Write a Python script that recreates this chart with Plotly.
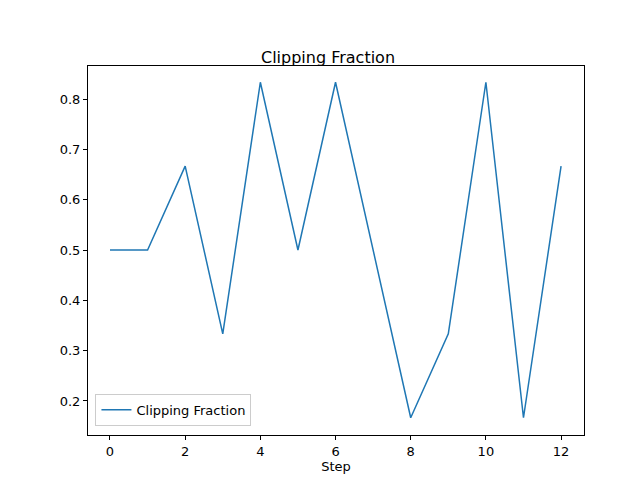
import plotly.graph_objects as go

steps = list(range(13))
clip_frac = [0.5, 0.5, 0.6667, 0.3333, 0.8333, 0.5, 0.8333, 0.5, 0.1667, 0.3333, 0.8333, 0.1667, 0.6667]

fig = go.Figure()
fig.add_trace(go.Scatter(x=steps, y=clip_frac, mode="lines", name="Clipping Fraction",
                         line=dict(color="#1f77b4", width=1.5)))
axis_common = dict(showgrid=False, zeroline=False, showline=True, linecolor="black", linewidth=1,
                   mirror=True, ticks="outside", ticklen=4, tickcolor="black", automargin=False,
                   tickfont=dict(family="DejaVu Sans", size=13, color="black"))
fig.update_layout(
    width=640, height=480,
    margin=dict(l=80, r=64, t=58, b=53, autoexpand=False),
    plot_bgcolor="white", paper_bgcolor="white",
    title=dict(text="Clipping Fraction", x=0.5, xanchor="center", y=0.885, yanchor="bottom",
               font=dict(family="DejaVu Sans", size=16, color="black")),
    xaxis=dict(range=[-0.585, 12.61], tickvals=[0, 2, 4, 6, 8, 10, 12],
               title=dict(text="Step", font=dict(family="DejaVu Sans", size=13, color="black"), standoff=4),
               **axis_common),
    yaxis=dict(range=[0.1324, 0.8656], tickvals=[0.2, 0.3, 0.4, 0.5, 0.6, 0.7, 0.8],
               tickformat=".1f", **axis_common),
    showlegend=True,
    legend=dict(x=0.015, y=0.025, xanchor="left", yanchor="bottom",
                bgcolor="white", bordercolor="#cccccc", borderwidth=1,
                font=dict(family="DejaVu Sans", size=13, color="black")),
)
fig.write_html("out.html")
